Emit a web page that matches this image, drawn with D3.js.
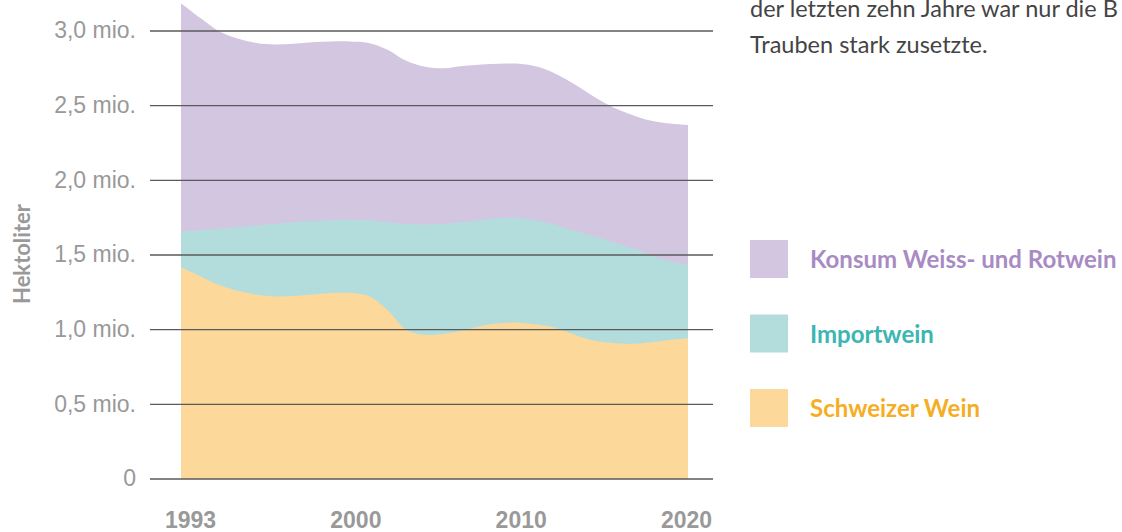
<!DOCTYPE html>
<html>
<head>
<meta charset="utf-8">
<script src="https://d3js.org/d3.v7.min.js"></script>
<style>
  body { margin: 0; background: #fff; }
  svg { display: block; font-family: Lato, "Open Sans", sans-serif; }
  .grid line { stroke: #5a5a5a; stroke-width: 1.4px; }
  .tick text { fill: #999; }
</style>
</head>
<body>
<svg id="chart" width="1122" height="532"></svg>
<script>
// years with one reading per year
var years = d3.range(1993, 2021);
// Schweizer Wein (mio. hl)
var schweizerWein = [1.418, 1.36, 1.30, 1.26, 1.235, 1.222, 1.225, 1.235, 1.245, 1.245,
  1.225, 1.13, 1.00, 0.965, 0.972, 0.995, 1.025, 1.043, 1.047, 1.035,
  1.01, 0.965, 0.925, 0.91, 0.905, 0.915, 0.93, 0.942];
// Importwein (mio. hl)
var importwein = [0.238, 0.305, 0.375, 0.425, 0.462, 0.488, 0.495, 0.493, 0.488, 0.49,
  0.507, 0.59, 0.708, 0.74, 0.738, 0.725, 0.71, 0.704, 0.701, 0.695,
  0.69, 0.695, 0.70, 0.675, 0.64, 0.585, 0.53, 0.495];
// Konsum Weiss- und Rotwein, total (mio. hl)
var konsum = [3.186, 3.09, 3.00, 2.95, 2.92, 2.91, 2.915, 2.925, 2.93, 2.93,
  2.92, 2.875, 2.80, 2.76, 2.75, 2.765, 2.775, 2.78, 2.78, 2.76,
  2.71, 2.64, 2.56, 2.49, 2.44, 2.40, 2.38, 2.37];

var yTicks = [0, 0.5, 1, 1.5, 2, 2.5, 3];
var yearLabels = ["1993", "2000", "2010", "2020"];

var legendItems = [
  { name: "Konsum Weiss- und Rotwein", fill: "#d3c6e1", text: "#a88bc3" },
  { name: "Importwein", fill: "#b3dddc", text: "#3bb6b2" },
  { name: "Schweizer Wein", fill: "#fcd89b", text: "#f5ae23" }
];

var svg = d3.select("#chart");

var x = d3.scaleLinear().domain([1993, 2020]).range([181, 688]);
var y = d3.scaleLinear().domain([0, 3]).range([479, 31]);

var rows = years.map(function (yr, i) {
  var s = schweizerWein[i], imp = s + importwein[i];
  return { year: yr, s: s, imp: imp, total: konsum[i] };
});

var curve = d3.curveCatmullRom.alpha(0.5);

function band(key) {
  return d3.area().curve(curve)
    .x(function (d) { return x(d.year); })
    .y0(y(0))
    .y1(function (d) { return y(d[key]); });
}

svg.append("path").datum(rows).attr("fill", legendItems[0].fill).attr("d", band("total"));
svg.append("path").datum(rows).attr("fill", legendItems[1].fill).attr("d", band("imp"));
svg.append("path").datum(rows).attr("fill", legendItems[2].fill).attr("d", band("s"));

// gridlines on top of the areas
svg.append("g")
  .attr("class", "grid")
  .selectAll("line")
  .data(yTicks)
  .enter().append("line")
  .attr("x1", 150).attr("x2", 713)
  .attr("y1", function (d) { return y(d); })
  .attr("y2", function (d) { return y(d); });

// y axis labels
var yAxis = svg.append("g")
  .attr("transform", "translate(150,0)")
  .call(d3.axisLeft(y).tickValues(yTicks).tickSize(0).tickPadding(14)
    .tickFormat(function (d) { return d === 0 ? "0" : d.toFixed(1).replace(".", ",") + " mio."; }));
yAxis.select(".domain").remove();
yAxis.selectAll("text").style("font-size", "23px").attr("dy", "0.3em");

// x axis labels
var xLab = d3.scalePoint().domain(yearLabels).range([190, 686]);
var xAxis = svg.append("g")
  .attr("transform", "translate(0,500)")
  .call(d3.axisBottom(xLab).tickSize(0).tickPadding(0));
xAxis.select(".domain").remove();
xAxis.selectAll("text").attr("dy", null).attr("y", 28)
  .style("font-size", "23px").style("font-weight", "bold");

// y title
svg.append("text")
  .attr("transform", "translate(30,254) rotate(-90)")
  .attr("text-anchor", "middle")
  .style("font-size", "22px").style("font-weight", "bold")
  .attr("fill", "#999")
  .text("Hektoliter");

// legend
var legend = svg.append("g").selectAll("g")
  .data(legendItems)
  .enter().append("g")
  .attr("transform", function (d, i) { return "translate(750," + (240 + i * 74.5) + ")"; });
legend.append("rect").attr("width", 38).attr("height", 38)
  .attr("fill", function (d) { return d.fill; });
legend.append("text")
  .attr("x", 60).attr("y", 28)
  .style("font-size", "24px").style("font-weight", "bold")
  .attr("fill", function (d) { return d.text; })
  .text(function (d) { return d.name; });

// cut-off text block above the legend
svg.append("g").selectAll("text")
  .data(["der letzten zehn Jahre war nur die B", "Trauben stark zusetzte."])
  .enter().append("text")
  .attr("x", 750).attr("y", function (d, i) { return 17 + i * 36; })
  .style("font-size", "23.5px").attr("fill", "#444")
  .text(function (d) { return d; });
</script>
</body>
</html>
